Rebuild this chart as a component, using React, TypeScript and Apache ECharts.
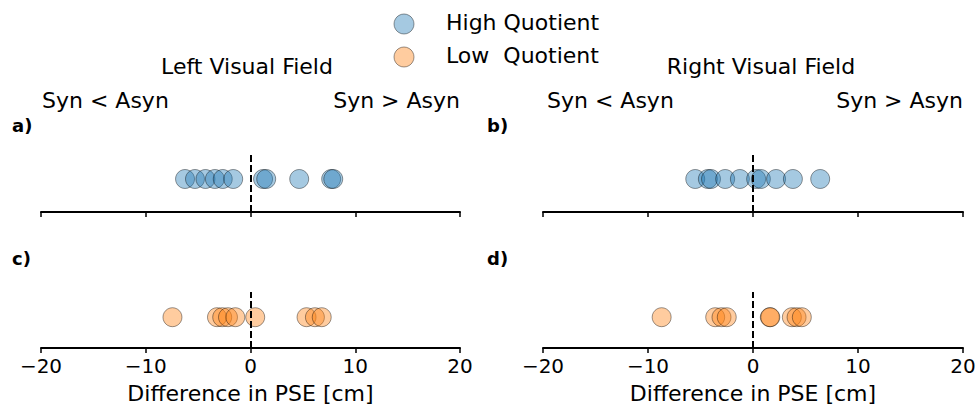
import React, { useEffect, useRef } from "react";
import * as echarts from "echarts";

const xTicks = [-20, -10, 0, 10, 20];
const highLeft = [-6.25, -5.3, -4.3, -3.4, -2.65, -1.65, 1.2, 1.5, 4.65, 7.7, 7.9];
const highRight = [-5.5, -4.3, -4.0, -2.65, -1.25, 0.3, 0.75, 2.2, 3.8, 6.4];
const lowLeft = [-7.45, -3.2, -2.7, -2.15, -1.45, 0.45, 5.35, 6.15, 6.8];
const lowRight = [-8.7, -3.6, -3.0, -2.5, 1.6, 1.65, 3.7, 4.15, 4.65];
const seriesNames = ["High Quotient", "Low  Quotient"];
const panelLabels = ["a)", "b)", "c)", "d)"];
const fieldTitles = ["Left Visual Field", "Right Visual Field"];
const sideLabels = ["Syn < Asyn", "Syn > Asyn"];

const BLUE = "#1f77b4";
const ORANGE = "#ff7f0e";
const FONT = "DejaVu Sans";

export default function App() {
  const ref = useRef<HTMLDivElement>(null);
  useEffect(() => {
    if (!ref.current) return;
    const chart = echarts.init(ref.current, null, { renderer: "svg" });
    const grids = [
      { left: 41, width: 419, top: 152, height: 60 },
      { left: 543, width: 420, top: 152, height: 60 },
      { left: 41, width: 419, top: 292, height: 58 },
      { left: 543, width: 420, top: 292, height: 58 },
    ];
    const xAxes = grids.map((_, i) => ({
      type: "value",
      gridIndex: i,
      min: xTicks[0],
      max: xTicks[xTicks.length - 1],
      interval: 10,
      splitLine: { show: false },
      axisLine: { show: true, onZero: false, lineStyle: { color: "#000", width: 2 } },
      axisTick: { show: true, length: 5, lineStyle: { color: "#000", width: 1.5 } },
      axisLabel: {
        show: i >= 2,
        color: "#000",
        fontSize: 20,
        fontFamily: FONT,
        margin: 8,
        formatter: (v: number) => (v < 0 ? "\u2212" + Math.abs(v) : String(v)),
      },
      name: i >= 2 ? "Difference in PSE [cm]" : "",
      nameLocation: "middle",
      nameGap: 34,
      nameTextStyle: { color: "#000", fontSize: 22, fontFamily: FONT },
    }));
    const yAxes = grids.map((_, i) => ({
      type: "value",
      gridIndex: i,
      min: -1.1,
      max: 0.9,
      show: false,
    }));
    const sets = [highLeft, highRight, lowLeft, lowRight];
    const series = sets.map((arr, i) => ({
      type: "scatter",
      name: i < 2 ? seriesNames[0] : seriesNames[1],
      xAxisIndex: i,
      yAxisIndex: i,
      symbol: "circle",
      symbolSize: 19,
      data: arr.map((v) => [v, 0]),
      itemStyle: {
        color: i < 2 ? BLUE : ORANGE,
        opacity: 0.4,
        borderColor: "#000",
        borderWidth: 1,
      },
      markLine: {
        silent: true,
        symbol: "none",
        label: { show: false },
        lineStyle: { color: "#000", type: [7, 3], width: 2, opacity: 1 },
        data: [{ xAxis: 0 }],
      },
      z: 3,
    }));
    const txt = (text: string, x: number, y: number, align: string, size: number, bold = false) => ({
      type: "text",
      x,
      y,
      style: {
        text,
        fill: "#000",
        font: `${bold ? "bold " : ""}${size}px '${FONT}'`,
        textAlign: align,
        textVerticalAlign: "middle",
      },
    });
    const graphic: any[] = [
      {
        type: "circle",
        shape: { cx: 404, cy: 24, r: 10 },
        style: { fill: "rgba(31,119,180,0.4)", stroke: "rgba(0,0,0,0.4)", lineWidth: 1 },
      },
      {
        type: "circle",
        shape: { cx: 404, cy: 57, r: 10 },
        style: { fill: "rgba(255,127,14,0.4)", stroke: "rgba(0,0,0,0.4)", lineWidth: 1 },
      },
      txt(seriesNames[0], 446, 22, "left", 22),
      txt(seriesNames[1], 446, 55, "left", 22),
      txt(fieldTitles[0], 247, 66, "center", 22),
      txt(fieldTitles[1], 761, 66, "center", 22),
      txt(sideLabels[0], 42, 100, "left", 22),
      txt(sideLabels[1], 460, 100, "right", 22),
      txt(sideLabels[0], 547, 100, "left", 22),
      txt(sideLabels[1], 963, 100, "right", 22),
      txt(panelLabels[0], 12, 125, "left", 18, true),
      txt(panelLabels[1], 487, 125, "left", 18, true),
      txt(panelLabels[2], 12, 258, "left", 18, true),
      txt(panelLabels[3], 487, 258, "left", 18, true),
    ];
    chart.setOption({
      animation: false,
      backgroundColor: "#fff",
      textStyle: { fontFamily: FONT },
      grid: grids,
      xAxis: xAxes,
      yAxis: yAxes,
      series,
      graphic,
    });
    return () => chart.dispose();
  }, []);
  return <div ref={ref} style={{ width: 979, height: 405, position: "absolute", left: 0, top: 0 }} />;
}
